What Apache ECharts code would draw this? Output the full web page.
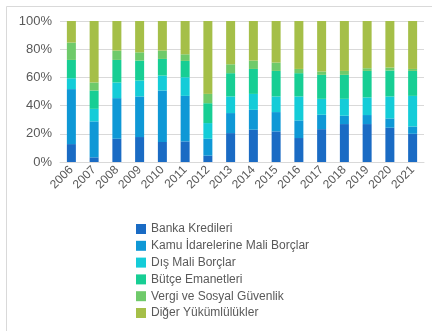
<!DOCTYPE html>
<html>
<head>
<meta charset="utf-8">
<script src="https://cdn.jsdelivr.net/npm/echarts@6/dist/echarts.min.js"></script>
<style>
  html, body { margin: 0; padding: 0; background: #fff; }
  #chart { width: 432px; height: 331px; }
</style>
</head>
<body>
<div id="chart"></div>
<script>
// Yükümlülük kompozisyonu, yıllara göre pay (%)
const years = ['2006','2007','2008','2009','2010','2011','2012','2013','2014','2015','2016','2017','2018','2019','2020','2021'];
const bankaKredileri   = [12.7, 3.3, 16.5, 17.7, 14.2, 14.6, 4.5, 20.5, 22.9, 21.7, 17.0, 23.3, 26.9, 26.9, 24.3, 20.0];
const kamuIdareleri    = [39.0, 25.5, 28.8, 28.8, 36.5, 32.3, 12.0, 14.2, 14.1, 13.7, 12.5, 10.2, 5.9, 6.4, 6.6, 5.2];
const disMaliBorclar   = [7.7, 8.9, 11.1, 11.3, 10.6, 13.2, 11.1, 11.8, 11.3, 11.1, 17.0, 11.3, 12.0, 12.5, 15.6, 21.7];
const butceEmanetleri  = [13.0, 13.0, 16.0, 14.1, 11.8, 11.6, 14.1, 16.5, 17.7, 18.1, 16.5, 17.0, 17.0, 18.8, 18.4, 17.7];
const vergiSosyal      = [12.3, 5.7, 6.6, 5.9, 5.9, 4.7, 6.6, 6.3, 5.9, 5.9, 3.0, 2.4, 2.8, 1.9, 2.1, 1.4];
const digerYukumluluk  = [15.3, 43.6, 21.0, 22.2, 21.0, 23.6, 51.7, 30.7, 28.1, 29.5, 34.0, 35.8, 35.4, 33.5, 33.0, 34.0];
const yTicks = [0, 20, 40, 60, 80, 100];

const seriesDefs = [
  { name: 'Banka Kredileri', data: bankaKredileri, color: '#1a6bc4' },
  { name: 'Kamu İdarelerine Mali Borçlar', data: kamuIdareleri, color: '#0f98d6' },
  { name: 'Dış Mali Borçlar', data: disMaliBorclar, color: '#14ccd8' },
  { name: 'Bütçe Emanetleri', data: butceEmanetleri, color: '#17ce94' },
  { name: 'Vergi ve Sosyal Güvenlik', data: vergiSosyal, color: '#6fca6a' },
  { name: 'Diğer Yükümlülükler', data: digerYukumluluk, color: '#a5bf48' }
];

const chart = echarts.init(document.getElementById('chart'), null, { renderer: 'canvas' });
const font = 'Liberation Sans, Arial, sans-serif';

chart.setOption({
  animation: false,
  backgroundColor: '#ffffff',
  textStyle: { fontFamily: font },
  grid: { left: 60, right: 8, top: 21, bottom: 169, containLabel: false },
  xAxis: {
    type: 'category',
    data: years,
    axisLine: { show: true, lineStyle: { color: '#d9d9d9', width: 1 } },
    axisTick: { show: false },
    axisLabel: { rotate: 45, color: '#595959', fontSize: 12, fontFamily: font, margin: 6, interval: 0 }
  },
  yAxis: {
    type: 'value',
    min: yTicks[0],
    max: yTicks[yTicks.length - 1],
    interval: 20,
    axisLine: { show: false },
    axisTick: { show: false },
    splitLine: { lineStyle: { color: '#d9d9d9', width: 1 } },
    axisLabel: { formatter: '{value}%', color: '#595959', fontSize: 13, fontFamily: font, margin: 8 }
  },
  legend: {
    orient: 'vertical',
    left: 131,
    top: 217,
    itemWidth: 10,
    itemHeight: 10,
    itemGap: 2.8,
    icon: 'rect',
    textStyle: { color: '#595959', fontSize: 12, fontFamily: font, lineHeight: 14 },
    data: seriesDefs.map(s => s.name)
  },
  graphic: [
    { type: 'line', shape: { x1: 6.5, y1: 6.5, x2: 432, y2: 6.5 }, style: { stroke: '#d9d9d9', lineWidth: 1 } },
    { type: 'line', shape: { x1: 6.5, y1: 6.5, x2: 6.5, y2: 331 }, style: { stroke: '#d9d9d9', lineWidth: 1 } }
  ],
  series: seriesDefs.map(s => ({
    name: s.name,
    type: 'bar',
    stack: 'toplam',
    barWidth: 9,
    data: s.data,
    itemStyle: { color: s.color }
  }))
});
</script>
</body>
</html>
